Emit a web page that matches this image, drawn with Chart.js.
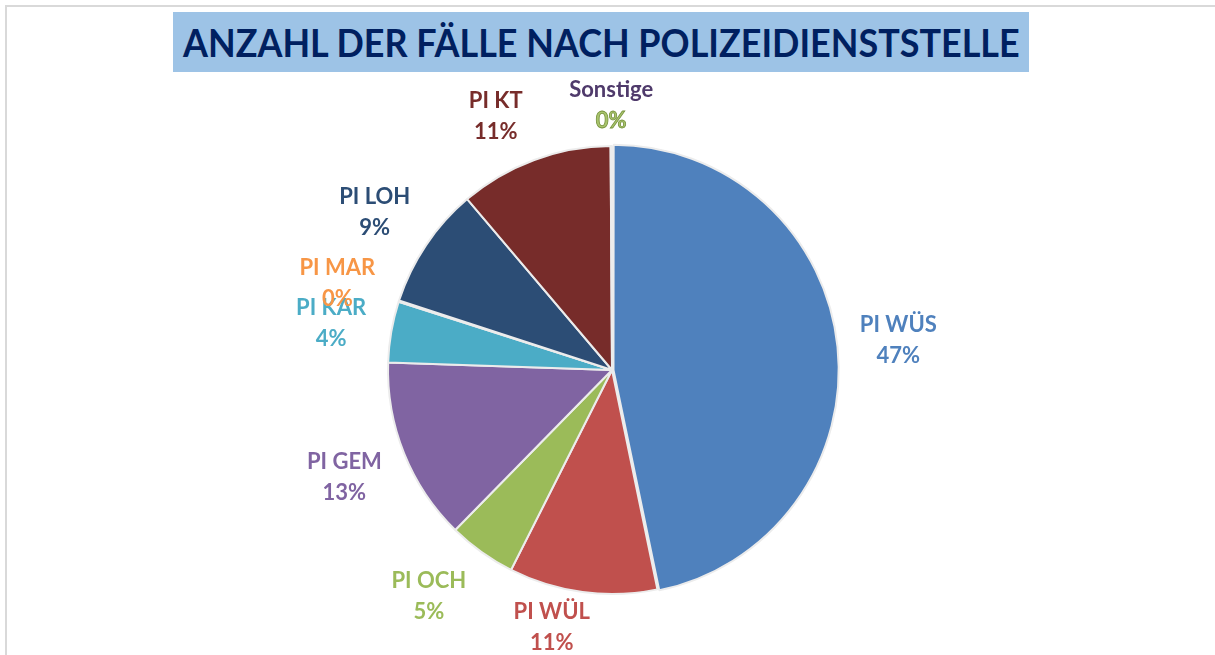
<!DOCTYPE html>
<html>
<head>
<meta charset="utf-8">
<script src="https://cdn.jsdelivr.net/npm/chart.js@4.4.0/dist/chart.umd.min.js"></script>
<style>
  html, body { margin: 0; padding: 0; background: #fff; }
  #wrap { position: relative; width: 1215px; height: 655px; overflow: hidden; }
  #frame {
    position: absolute; left: 5px; top: 5px; width: 1300px; height: 800px;
    border-top: 2px solid #d9d9d9; border-left: 2px solid #d9d9d9;
  }
  #titleBox {
    position: absolute; left: 173px; top: 12px; width: 856px; height: 60px;
    background: #9dc3e6;
  }
  #titleText {
    position: absolute; left: 10px; top: 8px; white-space: nowrap;
    font: bold 39px Lato, sans-serif; color: #002060; line-height: 44px;
    transform-origin: 0 0;
  }
  #pie { position: absolute; left: 0; top: 0; }
</style>
</head>
<body>
<div id="wrap">
  <div id="frame"></div>
  <div id="titleBox"><span id="titleText">ANZAHL DER FÄLLE NACH POLIZEIDIENSTSTELLE</span></div>
  <canvas id="pie" width="1215" height="655"></canvas>
</div>
<script>
const categories = ["PI WÜS", "PI WÜL", "PI OCH", "PI GEM", "PI KAR", "PI MAR", "PI LOH", "PI KT", "Sonstige"];
const values = [46.8, 10.7, 4.9, 13.2, 4.4, 0.1, 8.8, 11.1, 0.1];

const sliceColors = ["#4f81bd", "#c0504d", "#9bbb59", "#8064a2", "#4bacc6", "#f79646", "#2c4d75", "#772c2a", "#5f497a"];
const nameColors = ["#4f81bd", "#c0504d", "#9bbb59", "#8064a2", "#4bacc6", "#f79646", "#2c4d75", "#772c2a", "#4f3a6b"];
const pctColors = ["#4f81bd", "#c0504d", "#9bbb59", "#8064a2", "#4bacc6", "#f79646", "#2c4d75", "#772c2a", "#a9c46e"];
const labelShiftX = [0, -25, -19, 0, 0, 0, 0, -22, 0];
const labelShiftY = [0, -8, -3, 0, 2, 2, 2, 1, -1];

// stretch title text to fill the box like the original
const titleText = document.getElementById("titleText");
titleText.style.transform = "scaleX(" + (837 / titleText.offsetWidth) + ")";

// labels outside the pie, name on top and percentage below
const outsideLabels = {
  id: "outsideLabels",
  afterDatasetsDraw(chart) {
    const { ctx, chartArea } = chart;
    const cx = (chartArea.left + chartArea.right) / 2;
    const cy = (chartArea.top + chartArea.bottom) / 2;
    const total = values.reduce((a, b) => a + b, 0);
    ctx.save();
    ctx.font = "bold 22px Lato, sans-serif";
    ctx.textAlign = "center";
    ctx.textBaseline = "middle";
    chart.getDatasetMeta(0).data.forEach((arc, i) => {
      const mid = (arc.startAngle + arc.endAngle) / 2;
      const pct = Math.round((values[i] / total) * 100) + "%";
      const w = Math.max(ctx.measureText(categories[i]).width, ctx.measureText(pct).width);
      const cos = Math.cos(mid);
      const sin = Math.sin(mid);
      const d = arc.outerRadius + 24 + (Math.abs(cos) * w) / 2 + Math.abs(sin) * 15;
      const x = cx + cos * d + labelShiftX[i];
      const y = cy + sin * d + labelShiftY[i];
      ctx.fillStyle = nameColors[i];
      ctx.fillText(categories[i], x, y - 15.5);
      ctx.fillStyle = pctColors[i];
      ctx.fillText(pct, x, y + 15.5);
      if (categories[i] === "Sonstige") {
        ctx.strokeStyle = "#76923c";
        ctx.lineWidth = 0.8;
        ctx.strokeText(pct, x, y + 15.5);
      }
    });
    ctx.restore();
  },
};

new Chart(document.getElementById("pie").getContext("2d"), {
  type: "pie",
  data: {
    labels: categories,
    datasets: [
      {
        data: values,
        backgroundColor: sliceColors,
        borderColor: "#ececec",
        borderWidth: 2,
        offset: [6, 0, 0, 0, 0, 0, 0, 0, 0],
      },
    ],
  },
  options: {
    responsive: false,
    animation: false,
    events: [],
    radius: 224,
    layout: { padding: { left: 9, right: 0, top: 85, bottom: 0 } },
    plugins: {
      legend: { display: false },
      title: { display: false },
      tooltip: { enabled: false },
    },
  },
  plugins: [outsideLabels],
});
</script>
</body>
</html>
